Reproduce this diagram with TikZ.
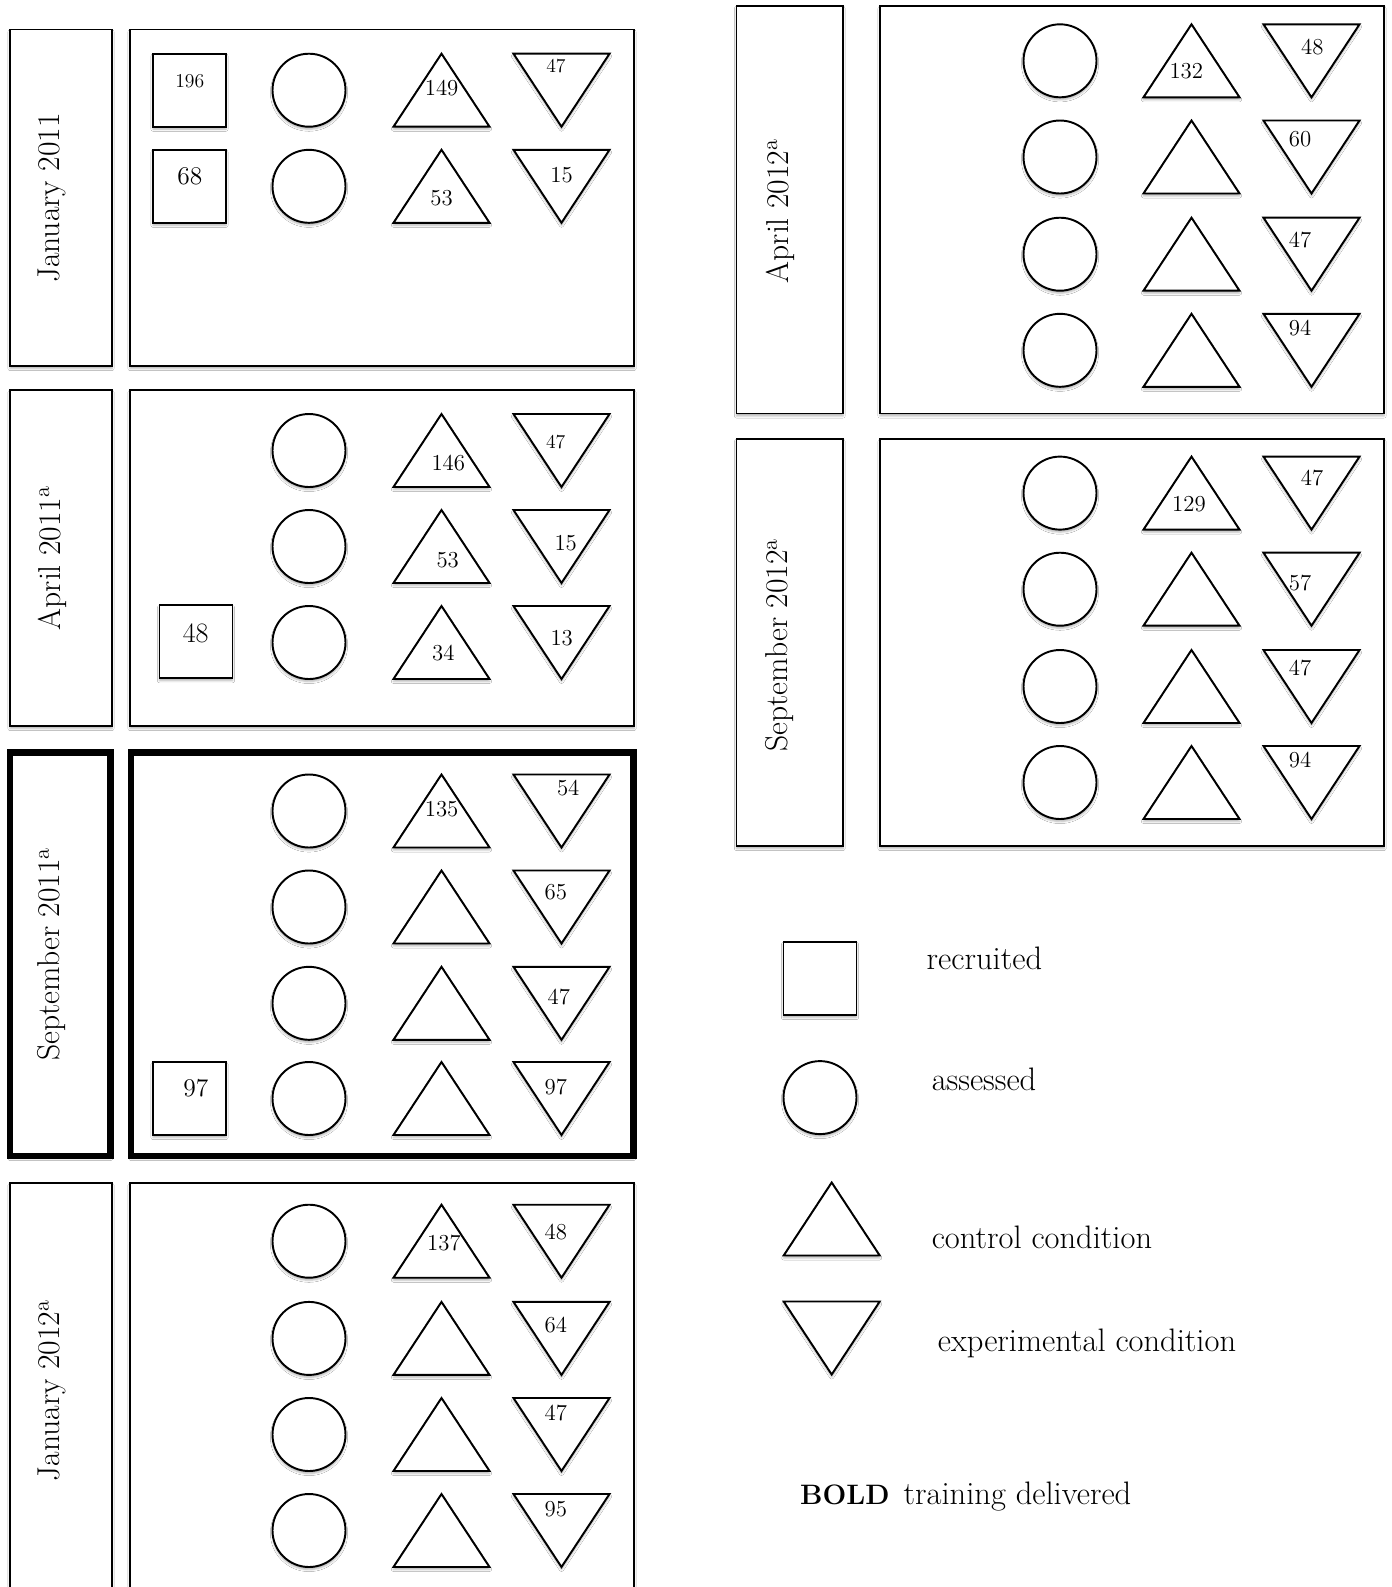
\documentclass[tikz,border=0pt]{standalone}
\usepackage{fontspec}
\usetikzlibrary{shadows.blur}
\tikzset{
  sh/.style={blur shadow={shadow xshift=0pt,shadow yshift=-1.4pt,shadow blur radius=1.2pt,shadow opacity=30}},
  frame/.style={draw,fill=white,line width=1.1pt,sh},
  boldframe/.style={draw,fill=white,line width=3.8pt,sh},
  shp/.style={draw,fill=white,line width=1.1pt,sh},
  num/.style={inner sep=0pt,font=\fontsize{13}{15}\selectfont},
  numsm/.style={num,font=\fontsize{11.2}{13}\selectfont},
  numlg/.style={num,font=\fontsize{14.5}{17}\selectfont},
  date/.style={rotate=90,inner sep=0pt,font=\fontsize{18}{21}\selectfont},
  key/.style={anchor=west,inner sep=0pt,font=\fontsize{18.5}{22}\selectfont},
  pics/recruit/.style={code={\draw[shp] (-36.5,-36.5) rectangle (36.5,36.5);}},
  pics/assess/.style={code={\draw[shp] (0,0) circle[radius=36.5];}},
  pics/ctrl/.style={code={\draw[shp] (-48,36.5) -- (0,-36.5) -- (48,36.5) -- cycle;}},
  pics/expt/.style={code={\draw[shp] (-48,-36.5) -- (48,-36.5) -- (0,36.5) -- cycle;}},
}

\begin{document}
\begin{tikzpicture}[x=0.02cm,y=-0.02cm]
  \useasboundingbox (0,0) rectangle (1392,1587);
  \fill[white] (0,0) rectangle (1392,1587);
  % left column
  \draw[frame] (10,29.5) rectangle (112,366);
  \draw[frame] (130,29.5) rectangle (634,366);
  \node[date] (jan11) at (52,198) {January 2011};
  \draw[frame] (10,390) rectangle (112,726);
  \draw[frame] (130,390) rectangle (634,726);
  \node[date] (apr11) at (52,558) {April 2011\textsuperscript{a}};
  \draw[boldframe] (10,752.5) rectangle (110.5,1156);
  \draw[boldframe] (131,752.5) rectangle (633.5,1156);
  \node[date] (sep11) at (52,954) {September 2011\textsuperscript{a}};
  \draw[frame] (10,1183) rectangle (112,1600);
  \draw[frame] (130,1183) rectangle (634,1600);
  \node[date] (jan12) at (52,1390.5) {January 2012\textsuperscript{a}};
  % right column
  \draw[frame] (736.5,6) rectangle (843,413.5);
  \draw[frame] (880,6) rectangle (1384,413.5);
  \node[date] (apr12) at (780,211) {April 2012\textsuperscript{a}};
  \draw[frame] (736.5,439) rectangle (843,846);
  \draw[frame] (880,439) rectangle (1384,846);
  \node[date] (sep12) at (780,645) {September 2012\textsuperscript{a}};

  \foreach \y in {90.2,186.3,450.5,546.5,642.5,811,907,1003.3,1098.5,1241.2,1338.4,1434.5,1530.5}
    {\pic at (309,\y) {assess}; \pic at (441.5,\y) {ctrl}; \pic at (561.5,\y) {expt};}
  \foreach \y in {60.8,157,254.2,350.3,493.1,589.2,686.5,782.5}
    {\pic at (1060,\y) {assess}; \pic at (1191.5,\y) {ctrl}; \pic at (1311.5,\y) {expt};}
  \pic at (189.5,90.2) {recruit};
  \pic at (189.5,186.3) {recruit};
  \pic at (196,641.7) {recruit};
  \pic at (189.5,1098.5) {recruit};

  % counts
  \node[numsm] (r1a) at (189.8,80.7) {196};
  \node[numlg] (r1b) at (189.8,176) {68};
  \node[num] (c1a) at (441.6,87.7) {149};
  \node[num] (c1b) at (441.6,198.3) {53};
  \node[numsm] (e1a) at (555.9,66) {47};
  \node[num] (e1b) at (561.6,175) {15};
  \node[num,font=\fontsize{16}{18}\selectfont] (r2c) at (195.7,633.3) {48};
  \node[num] (c2a) at (448.3,462.7) {146};
  \node[num] (c2b) at (447.7,560) {53};
  \node[num] (c2c) at (443.3,653.3) {34};
  \node[numsm] (e2a) at (555.7,442.3) {47};
  \node[num] (e2b) at (565.7,543.3) {15};
  \node[num] (e2c) at (561.7,638.3) {13};
  \node[numlg] (r3d) at (195.9,1088.3) {97};
  \node[num] (c3a) at (441.6,809) {135};
  \node[num] (e3a) at (568.2,788.3) {54};
  \node[num] (e3b) at (555.9,891.7) {65};
  \node[num] (e3c) at (558.8,996.7) {47};
  \node[num] (e3d) at (555.9,1086.7) {97};
  \node[num] (c4a) at (444,1242.7) {137};
  \node[num] (e4a) at (555.9,1232.3) {48};
  \node[num] (e4b) at (555.9,1325) {64};
  \node[num] (e4c) at (555.9,1413.3) {47};
  \node[num] (e4d) at (555.9,1509.3) {95};
  \node[num] (c5a) at (1186.3,70.7) {132};
  \node[num] (e5a) at (1312.4,46.7) {48};
  \node[num] (e5b) at (1300,139.3) {60};
  \node[num] (e5c) at (1300,240) {47};
  \node[num] (e5d) at (1300,328.3) {94};
  \node[num] (c6a) at (1189,503.7) {129};
  \node[num] (e6a) at (1312,478) {47};
  \node[num] (e6b) at (1300,583) {57};
  \node[num] (e6c) at (1300,668) {47};
  \node[num] (e6d) at (1300,759.7) {94};

  % legend
  \pic at (820,978.5) {recruit};
  \pic at (820,1097.6) {assess};
  \pic at (831.7,1219) {ctrl};
  \pic at (831.7,1338) {expt};
  \node[key] (krec) at (926.3,958.7) {recruited};
  \node[key] (kass) at (931.4,1079.2) {assessed};
  \node[key] (kctl) at (931.4,1237) {control condition};
  \node[key] (kexp) at (937.5,1343.4) {experimental condition};
  \node[key] (kbold) at (799.8,1496.3) {{\fontsize{16}{19}\selectfont\textbf{BOLD}}\hspace{8pt}training delivered};
\end{tikzpicture}
\end{document}
